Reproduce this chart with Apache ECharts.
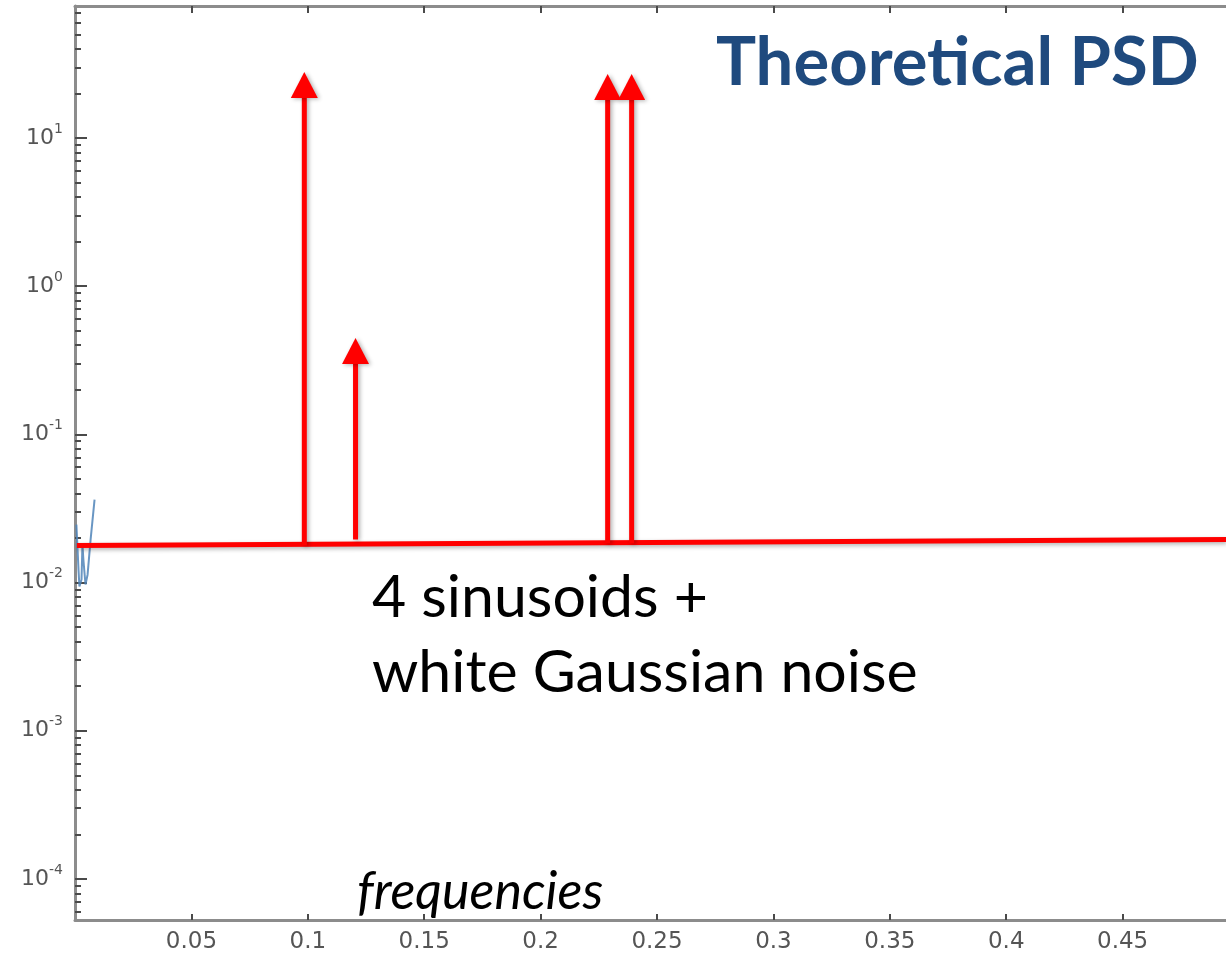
<!DOCTYPE html>
<html>
<head>
<meta charset="utf-8">
<script src="https://cdn.jsdelivr.net/npm/echarts@6/dist/echarts.min.js"></script>
<style>
  html, body { margin: 0; padding: 0; background: #ffffff; }
  #chart { width: 1226px; height: 957px; }
</style>
</head>
<body>
<div id="chart"></div>
<script>
// ---------------- data ----------------
// y-axis decade tick exponents (labels 10^n)
const yDecades = [-4, -3, -2, -1, 0, 1];
// x tick spacing (labels 0.05 ... 0.45)
const xTickStep = 0.05;
// axis extents (frequency, and PSD values); the right border is cropped off
const xRange = [0, 0.4944];
const yRange = [5.28e-5, 77.8];

// estimated PSD (blue sliver visible at the far left)
const estFreq = [0.0006, 0.0015, 0.0019, 0.0028, 0.0032, 0.0036, 0.0045, 0.0054, 0.0067, 0.0084];
const estPsd  = [0.0246, 0.01225, 0.0094, 0.0105, 0.0180, 0.0143, 0.0097, 0.0113, 0.0195, 0.0363];

// white-noise floor (red horizontal line)
const noiseFreq = [0.0008, 0.4944];
const noisePsd  = [0.0178, 0.0195];

// sinusoid lines (red arrows): frequency, bottom value, arrow-tip value
const sineFreq = [0.0985, 0.1205, 0.2288, 0.2391];
const sineBase = [0.0178, 0.0195, 0.0184, 0.0184];
const sineTip  = [27.9, 0.447, 27.0, 27.0];

// annotations
const titleText = 'Theoretical PSD';
const noteLines = ['4 sinusoids +', 'white Gaussian noise'];
const xLabelText = 'frequencies';

// ---------------- build ----------------
const lg = v => Math.log10(v);
const yMin = lg(yRange[0]), yMax = lg(yRange[1]);
const minorVals = [];
for (let d = -5; d <= 1; d++) {
  for (let k = 2; k <= 9; k++) {
    const v = d + Math.log10(k);
    if (v > yMin && v < yMax) minorVals.push(v);
  }
}
const xTicks = [];
for (let i = 1; i * xTickStep < xRange[1]; i++) xTicks.push(Math.round(i * xTickStep * 100) / 100);

const axisGray = '#8c8c8c';
const tickDark = '#4a4a4a';

const chart = echarts.init(document.getElementById('chart'), null, { renderer: 'canvas' });

const option = {
  backgroundColor: '#ffffff',
  animation: false,
  grid: { left: 75, right: 0, top: 6, bottom: 37, containLabel: false, outerBoundsMode: 'none' },
  xAxis: [
    {
      type: 'value', position: 'bottom', min: xRange[0], max: xRange[1],
      axisLine: { show: true, onZero: false, lineStyle: { color: axisGray, width: 3 } },
      axisTick: { show: true, inside: true, length: 6, customValues: xTicks, lineStyle: { color: tickDark, width: 2 } },
      axisLabel: {
        customValues: xTicks, margin: 11,
        fontFamily: 'DejaVu Sans', fontSize: 23, color: '#555555',
        formatter: v => (Math.round(v * 100) / 100).toString()
      },
      splitLine: { show: false }
    },
    {
      type: 'value', position: 'top', min: xRange[0], max: xRange[1],
      axisLine: { show: true, onZero: false, lineStyle: { color: axisGray, width: 3 } },
      axisTick: { show: true, inside: true, length: 7, customValues: xTicks, lineStyle: { color: tickDark, width: 2 } },
      axisLabel: { show: false },
      splitLine: { show: false }
    }
  ],
  yAxis: [
    {
      type: 'value', position: 'left', min: yMin, max: yMax,
      axisLine: { show: true, onZero: false, lineStyle: { color: axisGray, width: 3 } },
      axisTick: { show: true, inside: true, length: 12, customValues: yDecades, lineStyle: { color: tickDark, width: 2 } },
      axisLabel: {
        customValues: yDecades, margin: 12, color: '#555555',
        formatter: v => '{b|10}{s|' + Math.round(v) + '}',
        rich: {
          b: { fontFamily: 'DejaVu Sans', fontSize: 22, color: '#555555', lineHeight: 32 },
          s: { fontFamily: 'DejaVu Sans', fontSize: 14, color: '#555555', verticalAlign: 'top', lineHeight: 16 }
        }
      },
      splitLine: { show: false }
    },
    {
      type: 'value', position: 'left', offset: 0, min: yMin, max: yMax,
      axisLine: { show: false, onZero: false },
      axisTick: { show: true, inside: true, length: 6, customValues: minorVals, lineStyle: { color: tickDark, width: 2 } },
      axisLabel: { show: false },
      splitLine: { show: false }
    }
  ],
  series: [
    {
      name: 'estimate', type: 'line', xAxisIndex: 0, yAxisIndex: 0,
      data: estFreq.map((f, i) => [f, lg(estPsd[i])]),
      showSymbol: false, smooth: false, z: 2,
      lineStyle: { color: '#4f84b8', width: 2, opacity: 0.85 }
    },
    {
      name: 'noise', type: 'line', xAxisIndex: 0, yAxisIndex: 0,
      data: noiseFreq.map((f, i) => [f, lg(noisePsd[i])]),
      showSymbol: false, z: 3, clip: false,
      lineStyle: { color: '#ff0000', width: 5, shadowBlur: 4, shadowColor: 'rgba(0,0,0,0.3)', shadowOffsetX: 1, shadowOffsetY: 2 }
    },
    {
      name: 'sinusoids', type: 'custom', xAxisIndex: 0, yAxisIndex: 0, z: 4,
      data: sineFreq.map((f, i) => [f, lg(sineBase[i]), lg(sineTip[i])]),
      encode: { x: 0, y: [1, 2] },
      renderItem: function (params, api) {
        const x = api.value(0);
        const p0 = api.coord([x, api.value(1)]);
        const p1 = api.coord([x, api.value(2)]);
        const hh = 26, hw = 13.5;
        const shadow = { shadowBlur: 4, shadowColor: 'rgba(0,0,0,0.3)', shadowOffsetX: 2, shadowOffsetY: 1 };
        return {
          type: 'group',
          children: [
            { type: 'line', shape: { x1: p0[0], y1: p0[1], x2: p1[0], y2: p1[1] + hh - 1 },
              style: Object.assign({ stroke: '#ff0000', lineWidth: 5 }, shadow) },
            { type: 'polygon', shape: { points: [[p1[0], p1[1]], [p1[0] - hw, p1[1] + hh], [p1[0] + hw, p1[1] + hh]] },
              style: Object.assign({ fill: '#ff0000' }, shadow) }
          ]
        };
      }
    }
  ],
  graphic: [
    { type: 'text', left: 716, top: 30, z: 10,
      style: { text: titleText, fontFamily: 'Lato', fontWeight: 'bold', fontSize: 67, fill: '#1f4a7e' } },
    { type: 'text', left: 372, top: 568, z: 10,
      style: { text: noteLines[0], fontFamily: 'Lato', fontSize: 59, fill: '#000000' } },
    { type: 'text', left: 372, top: 643, z: 10,
      style: { text: noteLines[1], fontFamily: 'Lato', fontSize: 59, fill: '#000000' } },
    { type: 'text', left: 357, top: 866, z: 10,
      style: { text: xLabelText, fontFamily: 'Lato', fontStyle: 'italic', fontSize: 52, fill: '#000000' } }
  ]
};

chart.setOption(option);
</script>
</body>
</html>
